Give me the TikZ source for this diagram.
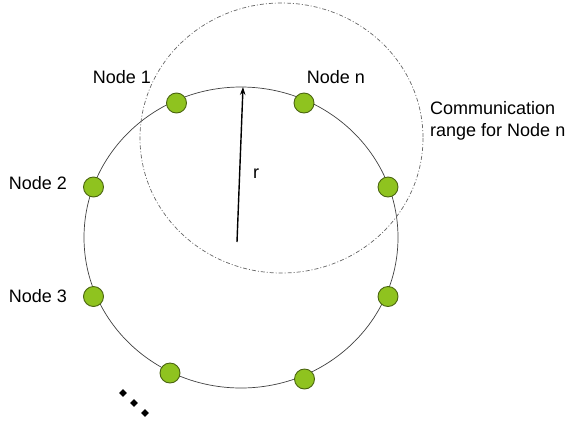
\documentclass[tikz,border=0pt]{standalone}
\usepackage{fontspec}
\setmainfont{Liberation Sans}
\usetikzlibrary{shapes.geometric,arrows.meta}
\definecolor{nodegreen}{HTML}{8FC31F}
\definecolor{nodeedge}{HTML}{4A6410}
\tikzset{
  sensor/.style={circle,draw=nodeedge,fill=nodegreen,line width=0.9pt,minimum size=20pt,inner sep=0pt},
  lbl/.style={font=\fontsize{18}{21.5}\selectfont,inner sep=0pt,align=left},
  dotmark/.style={diamond,fill=black,inner sep=0pt,minimum size=8pt},
  ringline/.style={draw=black!75,line width=0.7pt},
  rangeline/.style={draw=black!60,line width=0.7pt,dash pattern=on 4pt off 2pt on 1pt off 2pt}
}
\begin{document}
\begin{tikzpicture}[x=1pt,y=-1pt]
\useasboundingbox (0,0) rectangle (577,426);
\draw[ringline] (241,237.5) ellipse [x radius=157, y radius=150.5];
\draw[rangeline] (281.5,138) ellipse [x radius=141.5, y radius=135];
\coordinate (c) at (237,242);
\coordinate (top) at (243,87);
\draw[line width=1.4pt,-{Stealth[length=8pt,width=5.5pt]}] (c) -- (top);
\node[lbl] (r) at (256,174) {r};
\node[sensor] (n1) at (176.5,103) {};
\node[sensor] (nn) at (304,103) {};
\node[sensor] (n2) at (93.5,187) {};
\node[sensor] (n4) at (388,187) {};
\node[sensor] (n3) at (93.5,296.5) {};
\node[sensor] (n5) at (388,296.5) {};
\node[sensor] (n6) at (170,373) {};
\node[sensor] (n7) at (304.5,379) {};
\node[lbl] (t1) at (122,77) {Node 1};
\node[lbl] (tn) at (336,77) {Node n};
\node[lbl] (t2) at (38,183) {Node 2};
\node[lbl] (t3) at (38,296) {Node 3};
\node[lbl,anchor=west] (tc) at (430,121) {Communication\\range for Node n};
\node[dotmark] (d1) at (123,393) {};
\node[dotmark] (d2) at (134,403) {};
\node[dotmark] (d3) at (145,413) {};
\end{tikzpicture}
\end{document}
